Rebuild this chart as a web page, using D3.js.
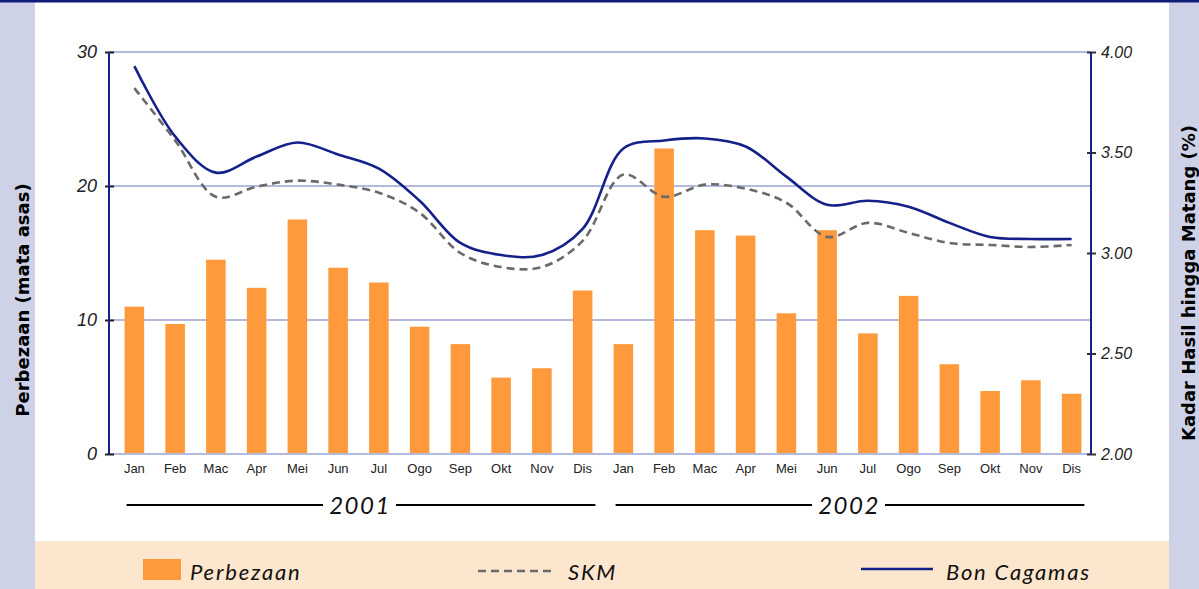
<!DOCTYPE html>
<html>
<head>
<meta charset="utf-8">
<script src="https://cdn.jsdelivr.net/npm/d3@7"></script>
<style>
body{margin:0;padding:0;background:#fff;}
svg{display:block;font-family:Lato,"Open Sans",sans-serif;}
</style>
</head>
<body>
<div id="chart"></div>
<script>
// data
var years = ['2001', '2002'];
var months = ['Jan','Feb','Mac','Apr','Mei','Jun','Jul','Ogo','Sep','Okt','Nov','Dis'];
var perbezaan = [11.0, 9.7, 14.5, 12.4, 17.5, 13.9, 12.8, 9.5, 8.2, 5.7, 6.4, 12.2,
                 8.2, 22.8, 16.7, 16.3, 10.5, 16.7, 9.0, 11.8, 6.7, 4.7, 5.5, 4.5];
var skm = [3.82, 3.56, 3.28, 3.33, 3.36, 3.34, 3.30, 3.20, 3.00, 2.93, 2.93, 3.06,
           3.39, 3.28, 3.34, 3.32, 3.25, 3.08, 3.15, 3.10, 3.05, 3.04, 3.03, 3.04];
var bonCagamas = [3.93, 3.58, 3.40, 3.48, 3.55, 3.49, 3.42, 3.26, 3.05, 2.99, 2.99, 3.12,
                  3.52, 3.56, 3.57, 3.53, 3.38, 3.24, 3.26, 3.23, 3.15, 3.08, 3.07, 3.07];
var leftTicks = [0, 10, 20, 30];
var rightTicks = [2.00, 2.50, 3.00, 3.50, 4.00];
var legendNames = ['Perbezaan', 'SKM', 'Bon Cagamas'];

var W = 1199, H = 589;
var navy = '#14218a', orange = '#ff9a3c', grey = '#6a6a6a', grid = '#b4badc';

var svg = d3.select('#chart').append('svg').attr('width', W).attr('height', H);

// frame: side bars, top rule, legend band
svg.append('rect').attr('x',0).attr('y',0).attr('width',35).attr('height',H).attr('fill','#cdd2e6');
svg.append('rect').attr('x',1169).attr('y',0).attr('width',30).attr('height',H).attr('fill','#cdd2e6');
svg.append('rect').attr('x',35).attr('y',541).attr('width',1134).attr('height',48).attr('fill','#fde6ce');
svg.append('rect').attr('x',0).attr('y',0).attr('width',W).attr('height',2.5).attr('fill','#101c78');

var keys = [];
years.forEach(function(y){ months.forEach(function(m){ keys.push(y+'-'+m); }); });

var x = d3.scaleBand().domain(keys).range([114, 1092]).paddingInner(0.52).paddingOuter(0.26);
var yL = d3.scaleLinear().domain([0, 30]).range([454, 52]);
var yR = d3.scaleLinear().domain([2, 4]).range([454, 52]);
var cx = function(i){ return x(keys[i]) + x.bandwidth()/2; };

// gridlines
svg.append('g').selectAll('line').data(leftTicks).enter().append('line')
    .attr('x1',109).attr('x2',1091)
    .attr('y1',function(d){return yL(d);}).attr('y2',function(d){return yL(d);})
    .attr('stroke',grid).attr('stroke-width',2);

// bars
svg.append('g').selectAll('rect').data(perbezaan).enter().append('rect')
    .attr('x',function(d,i){return x(keys[i]);})
    .attr('width',x.bandwidth())
    .attr('y',function(d){return yL(d);})
    .attr('height',function(d){return yL(0)-yL(d);})
    .attr('fill',orange);

// bottom baseline on top of the bars
svg.append('line').attr('x1',109).attr('x2',1091).attr('y1',yL(0)).attr('y2',yL(0))
    .attr('stroke',grid).attr('stroke-width',2);

// lines
var line = d3.line().x(function(d,i){return cx(i);}).y(function(d){return yR(d);})
    .curve(d3.curveCatmullRom.alpha(0.5));
svg.append('path').attr('d',line(skm)).attr('fill','none').attr('stroke',grey)
    .attr('stroke-width',2.6).attr('stroke-dasharray','8 5');
svg.append('path').attr('d',line(bonCagamas)).attr('fill','none').attr('stroke',navy)
    .attr('stroke-width',2.6);

// left axis
var axL = d3.axisLeft(yL).tickValues(leftTicks).tickSize(0).tickPadding(12).tickFormat(d3.format('d'));
var gL = svg.append('g').attr('transform','translate(109,0)').call(axL);
gL.select('.domain').remove();
gL.append('line').attr('x1',0).attr('x2',0).attr('y1',52).attr('y2',454).attr('stroke',navy).attr('stroke-width',2);
gL.selectAll('.tick').append('line').attr('x1',-4).attr('x2',5).attr('stroke','#222').attr('stroke-width',2);
gL.selectAll('.tick text').attr('font-size',18).attr('font-style','italic').attr('fill','#222');

// right axis
var axR = d3.axisRight(yR).tickValues(rightTicks).tickSize(0).tickPadding(10).tickFormat(d3.format('.2f'));
var gR = svg.append('g').attr('transform','translate(1091,0)').call(axR);
gR.select('.domain').remove();
gR.append('line').attr('x1',0).attr('x2',0).attr('y1',52).attr('y2',454).attr('stroke',navy).attr('stroke-width',2);
gR.selectAll('.tick').append('line').attr('x1',-4).attr('x2',5).attr('stroke','#333').attr('stroke-width',2);
gR.selectAll('.tick text').attr('font-size',16).attr('font-style','italic').attr('fill','#222');

// month labels
var axB = d3.axisBottom(x).tickSize(0).tickPadding(10).tickFormat(function(d){return d.split('-')[1];});
var gB = svg.append('g').attr('transform','translate(0,'+yL(0)+')').call(axB);
gB.select('.domain').remove();
gB.selectAll('.tick text').attr('font-size',13).attr('fill','#222');

// year brackets
var yearY = 505;
years.forEach(function(yr, k){
    var x0 = x(keys[k*12]) + 2, x1 = x(keys[k*12+11]) + x.bandwidth() + 3;
    var mid = (x0 + x1)/2 - 2;
    svg.append('line').attr('x1',x0).attr('x2',mid-36).attr('y1',yearY).attr('y2',yearY).attr('stroke','#000').attr('stroke-width',2);
    svg.append('line').attr('x1',mid+37).attr('x2',x1).attr('y1',yearY).attr('y2',yearY).attr('stroke','#000').attr('stroke-width',2);
    svg.append('text').attr('x',mid+1).attr('y',yearY+9).attr('text-anchor','middle')
        .attr('font-size',24).attr('font-style','italic').attr('letter-spacing',1.5).attr('fill','#111').text(yr);
});

// axis titles
svg.append('text').attr('transform','translate(29,300) rotate(-90)').attr('text-anchor','middle')
    .attr('font-family','"DejaVu Sans",sans-serif')
    .attr('font-size',18).attr('font-weight','bold').attr('fill','#000').text('Perbezaan (mata asas)');
svg.append('text').attr('transform','translate(1195,283) rotate(-90)').attr('text-anchor','middle')
    .attr('font-family','"DejaVu Sans",sans-serif')
    .attr('font-size',18).attr('font-weight','bold').attr('fill','#000').text('Kadar Hasil hingga Matang (%)');

// legend
var lg = svg.append('g');
lg.append('rect').attr('x',143).attr('y',559).attr('width',38).attr('height',21).attr('fill',orange);
lg.append('line').attr('x1',478).attr('x2',551).attr('y1',571).attr('y2',571).attr('stroke',grey).attr('stroke-width',2.6).attr('stroke-dasharray','8 5');
lg.append('line').attr('x1',861).attr('x2',933).attr('y1',569).attr('y2',569).attr('stroke',navy).attr('stroke-width',2.6);
var lx = [190, 568, 946];
lg.selectAll('text').data(legendNames).enter().append('text')
    .attr('x',function(d,i){return lx[i];}).attr('y',580)
    .attr('font-size',22).attr('font-style','italic').attr('letter-spacing',1.8).attr('fill','#111').text(function(d){return d;});
</script>
</body>
</html>
